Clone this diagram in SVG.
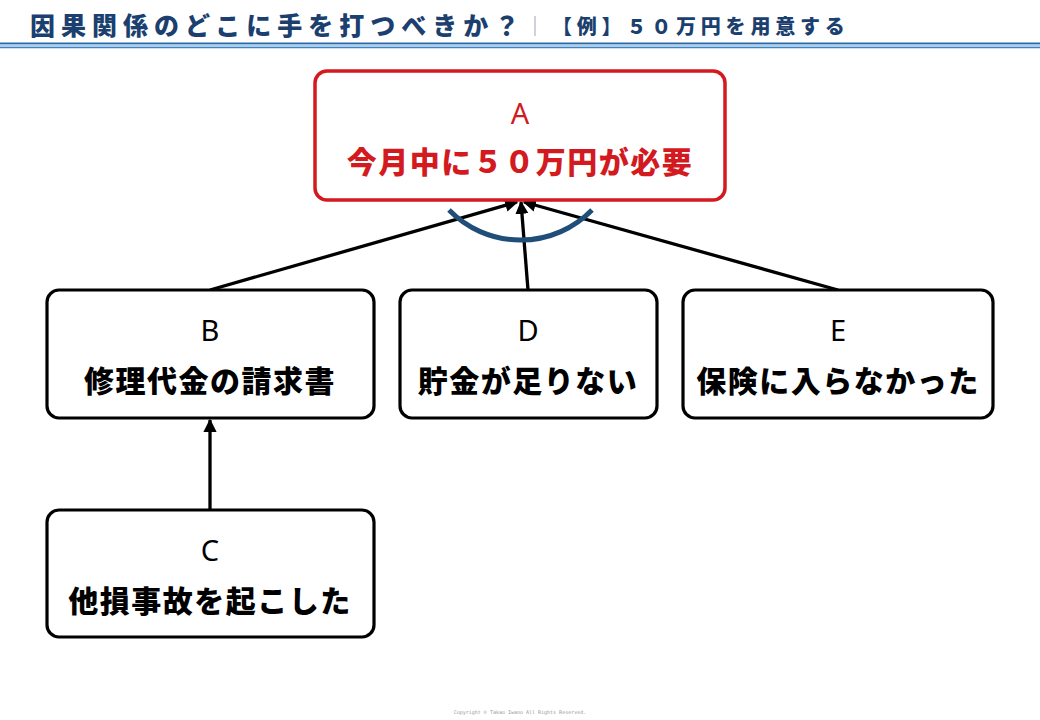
<svg xmlns="http://www.w3.org/2000/svg" width="1040" height="720" viewBox="0 0 1040 720">
<defs>
<style>
.box{fill:#fff;stroke:#000;stroke-width:3.2}
.boxA{fill:#fff;stroke:#d21a1f;stroke-width:3.5}
.lbl{font-family:"Noto Sans","Noto Sans CJK JP",sans-serif;font-size:29px;text-anchor:middle;fill:#000}
.txt{font-family:"Noto Sans CJK JP","Noto Sans",sans-serif;font-size:30px;font-weight:900;text-anchor:middle;fill:#000;letter-spacing:1.5px}
.red{fill:#d21a1f}
.conn{stroke:#000;stroke-width:3.3;fill:none}
.title{font-family:"Noto Sans CJK JP",sans-serif;font-weight:900;fill:#1b3f6e}
</style>
<marker id="ah" viewBox="0 0 10 10" refX="9" refY="5" markerWidth="4" markerHeight="4" orient="auto" markerUnits="strokeWidth">
<path d="M0,0 L10,5 L0,10 z" fill="#000"/>
</marker>
</defs>
<rect width="1040" height="720" fill="#fff"/>
<g id="header">
<text class="title" x="30" y="35" font-size="25" letter-spacing="6">因果関係のどこに手を打つべきか？</text>
<line x1="535" y1="16" x2="535" y2="36" stroke="#a0a8b4" stroke-width="1"/>
<text class="title" x="552" y="34" font-size="20" letter-spacing="4.8">【例】５０万円を用意する</text>
<line x1="0" y1="43.5" x2="1040" y2="43.5" stroke="#2c6aa8" stroke-width="2"/>
<line x1="0" y1="45.5" x2="1040" y2="45.5" stroke="#a9cdec" stroke-width="2"/>
<line x1="0" y1="47.5" x2="1040" y2="47.5" stroke="#3d85c6" stroke-width="1.5"/>
</g>
<g id="connectors">
<line class="conn" x1="210" y1="290" x2="517" y2="202" marker-end="url(#ah)"/>
<line class="conn" x1="528" y1="290" x2="521" y2="202" marker-end="url(#ah)"/>
<line class="conn" x1="838" y1="290" x2="524" y2="202" marker-end="url(#ah)"/>
<line class="conn" x1="210" y1="509" x2="210" y2="420" marker-end="url(#ah)"/>
<path d="M449,210 A100,100 0 0 0 592,210" fill="none" stroke="#1f4e79" stroke-width="5"/>
</g>
<g id="nodeA">
<rect class="boxA" x="315" y="71" width="410" height="129" rx="12"/>
<text class="lbl red" x="520" y="124">A</text>
<text class="txt red" x="520" y="173">今月中に５０万円が必要</text>
</g>
<g id="nodeB">
<rect class="box" x="47" y="290" width="327" height="128" rx="12"/>
<text class="lbl" x="210" y="341">B</text>
<text class="txt" x="210" y="392">修理代金の請求書</text>
</g>
<g id="nodeD">
<rect class="box" x="400" y="290" width="257" height="128" rx="12"/>
<text class="lbl" x="528" y="341">D</text>
<text class="txt" x="528" y="392">貯金が足りない</text>
</g>
<g id="nodeE">
<rect class="box" x="683" y="290" width="310" height="128" rx="12"/>
<text class="lbl" x="838" y="341">E</text>
<text class="txt" x="838" y="392">保険に入らなかった</text>
</g>
<g id="nodeC">
<rect class="box" x="47" y="510" width="327" height="127" rx="12"/>
<text class="lbl" x="210" y="561">C</text>
<text class="txt" x="210" y="612">他損事故を起こした</text>
</g>
<text x="520" y="714" font-family="'DejaVu Sans Mono',monospace" font-size="5" fill="#999" text-anchor="middle">Copyright © Takao Iwano All Rights Reserved.</text>
</svg>
